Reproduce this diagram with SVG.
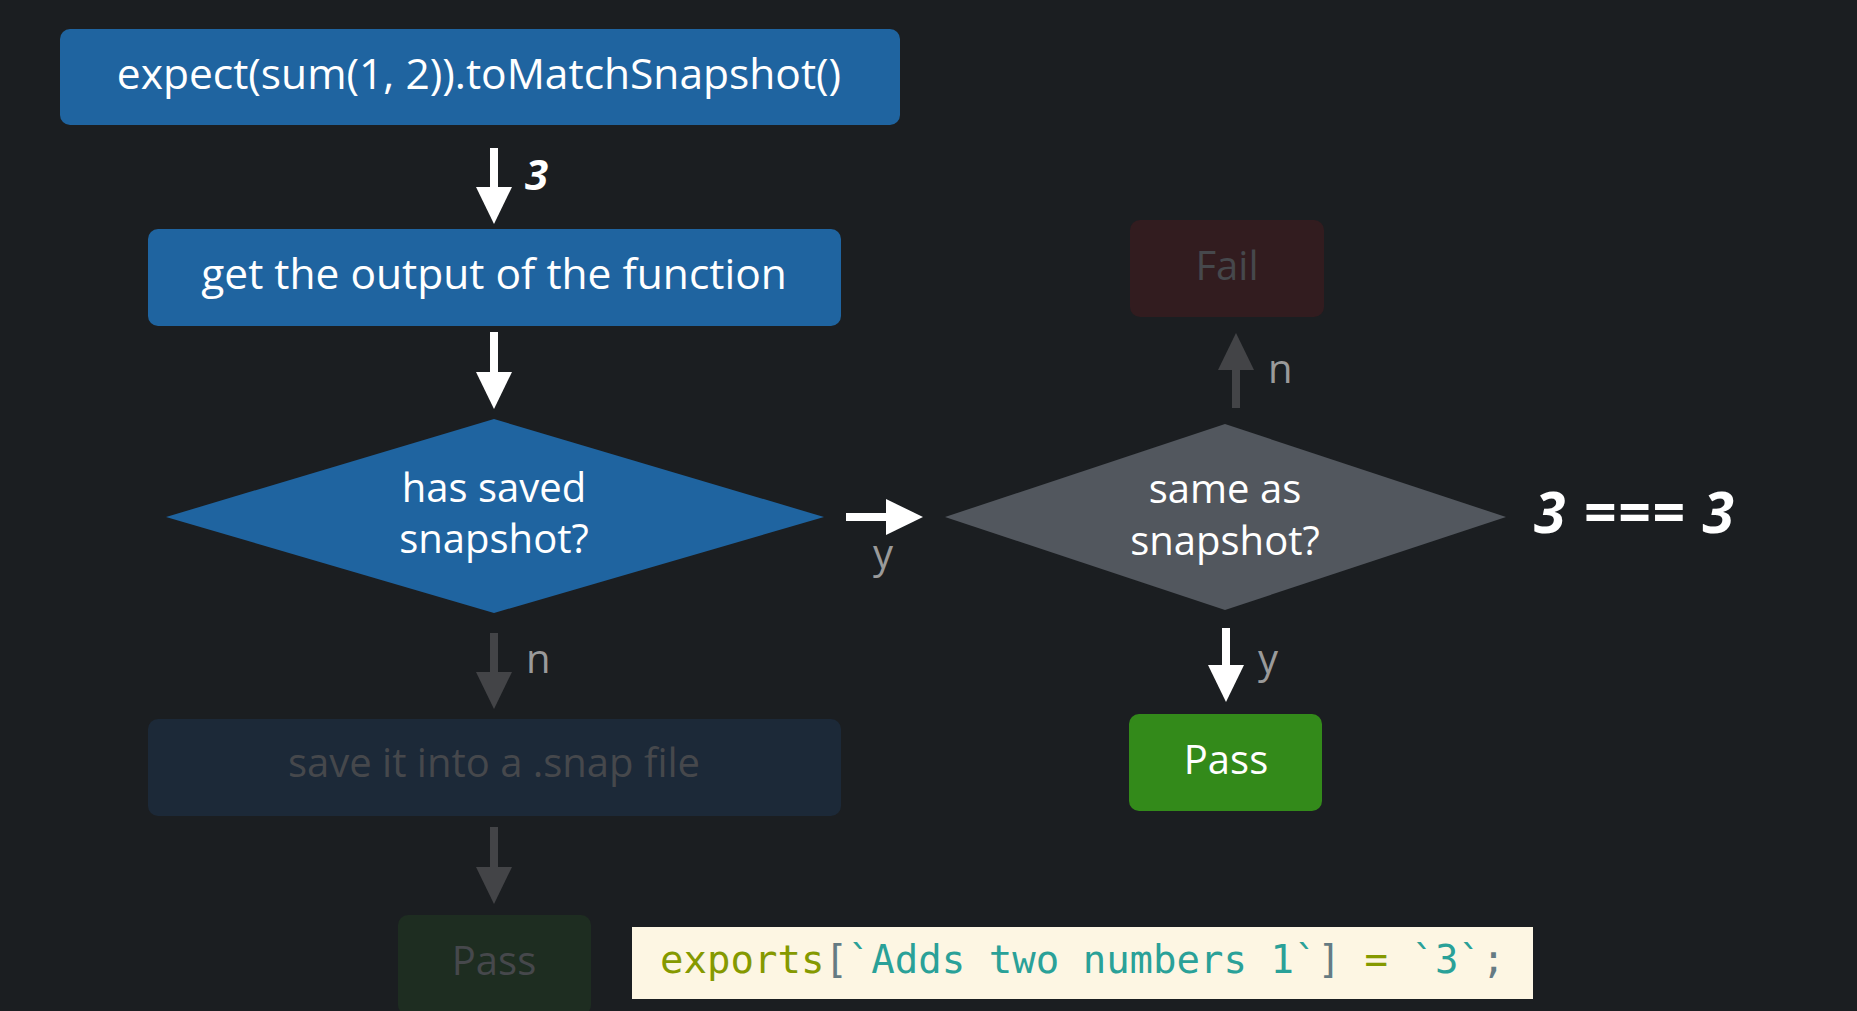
<svg xmlns="http://www.w3.org/2000/svg" width="1857" height="1011" viewBox="0 0 1857 1011">
<defs>
<style>
.t{font-family:"Open Sans","Noto Sans","DejaVu Sans",sans-serif;font-size:40px;text-anchor:middle;fill:#ffffff}
.big{font-size:42.5px}
.dim{fill:#46484c}
.lbl{font-family:"Open Sans","Noto Sans",sans-serif;font-size:40px;fill:#9a9a9a}
.bi{font-family:"Open Sans","Noto Sans",sans-serif;font-weight:bold;font-style:italic;fill:#ffffff}
.w{stroke:#ffffff;stroke-width:8;fill:none}
.g{stroke:#434447;stroke-width:8;fill:none}
.code{font-family:"DejaVu Sans Mono","Liberation Mono",monospace;font-size:39px}
</style>
<marker id="hw" markerUnits="userSpaceOnUse" markerWidth="37" markerHeight="37" refX="0" refY="18" orient="auto" viewBox="0 0 37 37">
<path d="M0,0 L37,18 L0,36 z" fill="#ffffff"/>
</marker>
<marker id="hg" markerUnits="userSpaceOnUse" markerWidth="37" markerHeight="37" refX="0" refY="18" orient="auto" viewBox="0 0 37 37">
<path d="M0,0 L37,18 L0,36 z" fill="#434447"/>
</marker>
</defs>
<rect width="1857" height="1011" fill="#1b1e21"/>

<g id="connectors">
<line class="w" x1="494" y1="148" x2="494" y2="187" marker-end="url(#hw)"/>
<line class="w" x1="494" y1="332" x2="494" y2="372" marker-end="url(#hw)"/>
<line class="w" x1="846" y1="517" x2="886" y2="517" marker-end="url(#hw)"/>
<line class="g" x1="494" y1="633" x2="494" y2="672" marker-end="url(#hg)"/>
<line class="g" x1="494" y1="827" x2="494" y2="867" marker-end="url(#hg)"/>
<line class="g" x1="1236" y1="408" x2="1236" y2="370" marker-end="url(#hg)"/>
<line class="w" x1="1226" y1="628" x2="1226" y2="665" marker-end="url(#hw)"/>
<text class="bi" x="525" y="190" font-size="42">3</text>
<text class="lbl" x="873" y="568">y</text>
<text class="lbl" x="526" y="673">n</text>
<text class="lbl" x="1268" y="383">n</text>
<text class="lbl" x="1258" y="673">y</text>
</g>

<g id="expect">
<rect x="60" y="29" width="840" height="96" rx="10" fill="#1f64a0"/>
<text class="t big" x="479" y="89">expect(sum(1, 2)).toMatchSnapshot()</text>
</g>
<g id="getOutput">
<rect x="148" y="229" width="693" height="97" rx="10" fill="#1f64a0"/>
<text class="t big" x="494" y="289">get the output of the function</text>
</g>
<g id="hasSaved">
<polygon points="494,419 824,517 494,613 166,517" fill="#1f64a0"/>
<text class="t" x="494" y="502">has saved</text>
<text class="t" x="494" y="553">snapshot?</text>
</g>
<g id="saveSnap">
<rect x="148" y="719" width="693" height="97" rx="10" fill="#1c2938"/>
<text class="t dim" x="494" y="777">save it into a .snap file</text>
</g>
<g id="passDim">
<rect x="398" y="915" width="193" height="100" rx="10" fill="#1e2d21"/>
<text class="t dim" x="494" y="975">Pass</text>
</g>
<g id="sameAs">
<polygon points="1225,424 1506,517 1225,610 945,517" fill="#52575e"/>
<text class="t" x="1225" y="503">same as</text>
<text class="t" x="1225" y="555">snapshot?</text>
</g>
<g id="fail">
<rect x="1130" y="220" width="194" height="97" rx="10" fill="#321c1f"/>
<text class="t dim" x="1227" y="280">Fail</text>
</g>
<g id="pass">
<rect x="1129" y="714" width="193" height="97" rx="10" fill="#338a1a"/>
<text class="t" x="1226" y="774">Pass</text>
</g>
<g id="compare">
<text class="bi" x="1534" y="533" font-size="57" textLength="200" lengthAdjust="spacing">3 === 3</text>
</g>
<g id="snapFile">
<rect x="632" y="927" width="901" height="72" fill="#fdf6e3"/>
<text class="code" x="660" y="973"><tspan fill="#859900">exports</tspan><tspan fill="#657b83">[</tspan><tspan fill="#2aa198">`Adds two numbers 1`</tspan><tspan fill="#657b83">]</tspan><tspan fill="#657b83"> </tspan><tspan fill="#859900">=</tspan><tspan fill="#657b83"> </tspan><tspan fill="#2aa198">`3`</tspan><tspan fill="#657b83">;</tspan></text>
</g>
</svg>
